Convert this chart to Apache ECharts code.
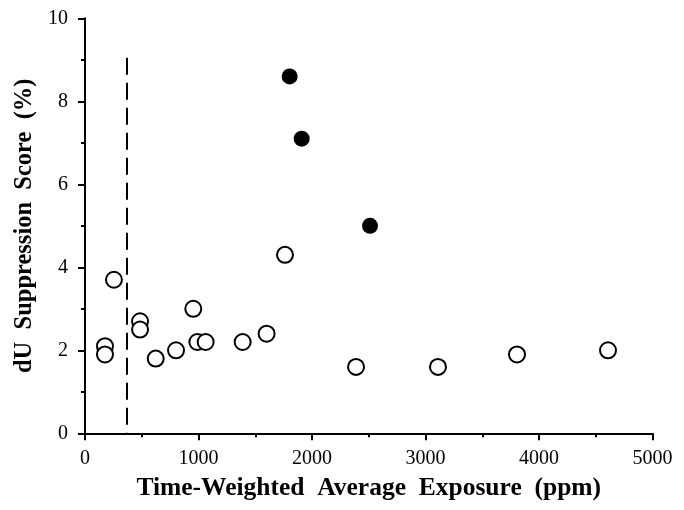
<!DOCTYPE html>
<html>
<head>
<meta charset="utf-8">
<script src="https://cdn.jsdelivr.net/npm/echarts@6/dist/echarts.min.js"></script>
<style>html,body{margin:0;padding:0;background:#fff;}#c{width:684px;height:510px;}</style>
</head>
<body>
<div id="c"></div>
<script>
var openX = [176, 176, 255, 485, 485, 623, 802, 954, 990, 1063, 1389, 1600, 1762, 2388, 3110, 3806, 4608];
var openY = [2.1, 1.9, 3.7, 2.7, 2.5, 1.8, 2.0, 3.0, 2.2, 2.2, 2.2, 2.4, 4.3, 1.6, 1.6, 1.9, 2.0];
var filledX = [1803, 1909, 2511];
var filledY = [8.6, 7.1, 5.0];
var thresholdX = 370;
var thresholdTop = 9.05;
var xTicks = [0, 1000, 2000, 3000, 4000, 5000];
var yTicks = [0, 2, 4, 6, 8, 10];

function pairs(xs, ys) { return xs.map(function (x, i) { return [x, ys[i]]; }); }

var chart = echarts.init(document.getElementById('c'), null, {renderer: 'canvas'});
var font = '"Liberation Serif", "DejaVu Serif", serif';
chart.setOption({
  animation: false,
  backgroundColor: '#ffffff',
  grid: {left: 85, right: 31.5, top: 18.3, bottom: 76.7, containLabel: false},
  xAxis: {
    type: 'value', min: xTicks[0], max: xTicks[xTicks.length - 1], interval: 1000,
    name: 'Time-Weighted  Average  Exposure  (ppm)', nameLocation: 'middle', nameGap: 42,
    nameTextStyle: {fontFamily: font, fontWeight: 'bold', fontSize: 25.5, color: '#000'},
    axisLine: {show: true, onZero: false, lineStyle: {color: '#000', width: 2}},
    axisTick: {show: true, inside: false, length: 7, lineStyle: {color: '#000', width: 2}},
    minorTick: {show: true, splitNumber: 2, length: 4, lineStyle: {color: '#000', width: 2}},
    axisLabel: {fontFamily: font, fontSize: 20, color: '#000', margin: 15, formatter: function (v) { return String(v); }},
    splitLine: {show: false}
  },
  yAxis: {
    type: 'value', min: yTicks[0], max: yTicks[yTicks.length - 1], interval: 2,
    name: 'dU  Suppression  Score  (%)', nameLocation: 'middle', nameGap: 48,
    nameTextStyle: {fontFamily: font, fontWeight: 'bold', fontSize: 24.5, color: '#000'},
    axisLine: {show: true, onZero: false, lineStyle: {color: '#000', width: 2}},
    axisTick: {show: true, inside: false, length: 7, lineStyle: {color: '#000', width: 2}},
    minorTick: {show: true, splitNumber: 2, length: 4, lineStyle: {color: '#000', width: 2}},
    axisLabel: {fontFamily: font, fontSize: 20, color: '#000', margin: 17, formatter: function (v) { return String(v); }},
    splitLine: {show: false}
  },
  series: [
    {
      type: 'line', data: [[thresholdX, thresholdTop], [thresholdX, 0]],
      symbol: 'none', silent: true,
      lineStyle: {color: '#000', width: 2, type: [17, 8]}
    },
    {
      type: 'scatter', data: pairs(openX, openY), symbol: 'circle', symbolSize: 16,
      itemStyle: {color: '#fff', borderColor: '#000', borderWidth: 2, opacity: 1}
    },
    {
      type: 'scatter', data: pairs(filledX, filledY), symbol: 'circle', symbolSize: 16,
      itemStyle: {color: '#000', borderColor: '#000', borderWidth: 0, opacity: 1}
    }
  ]
});
</script>
</body>
</html>
